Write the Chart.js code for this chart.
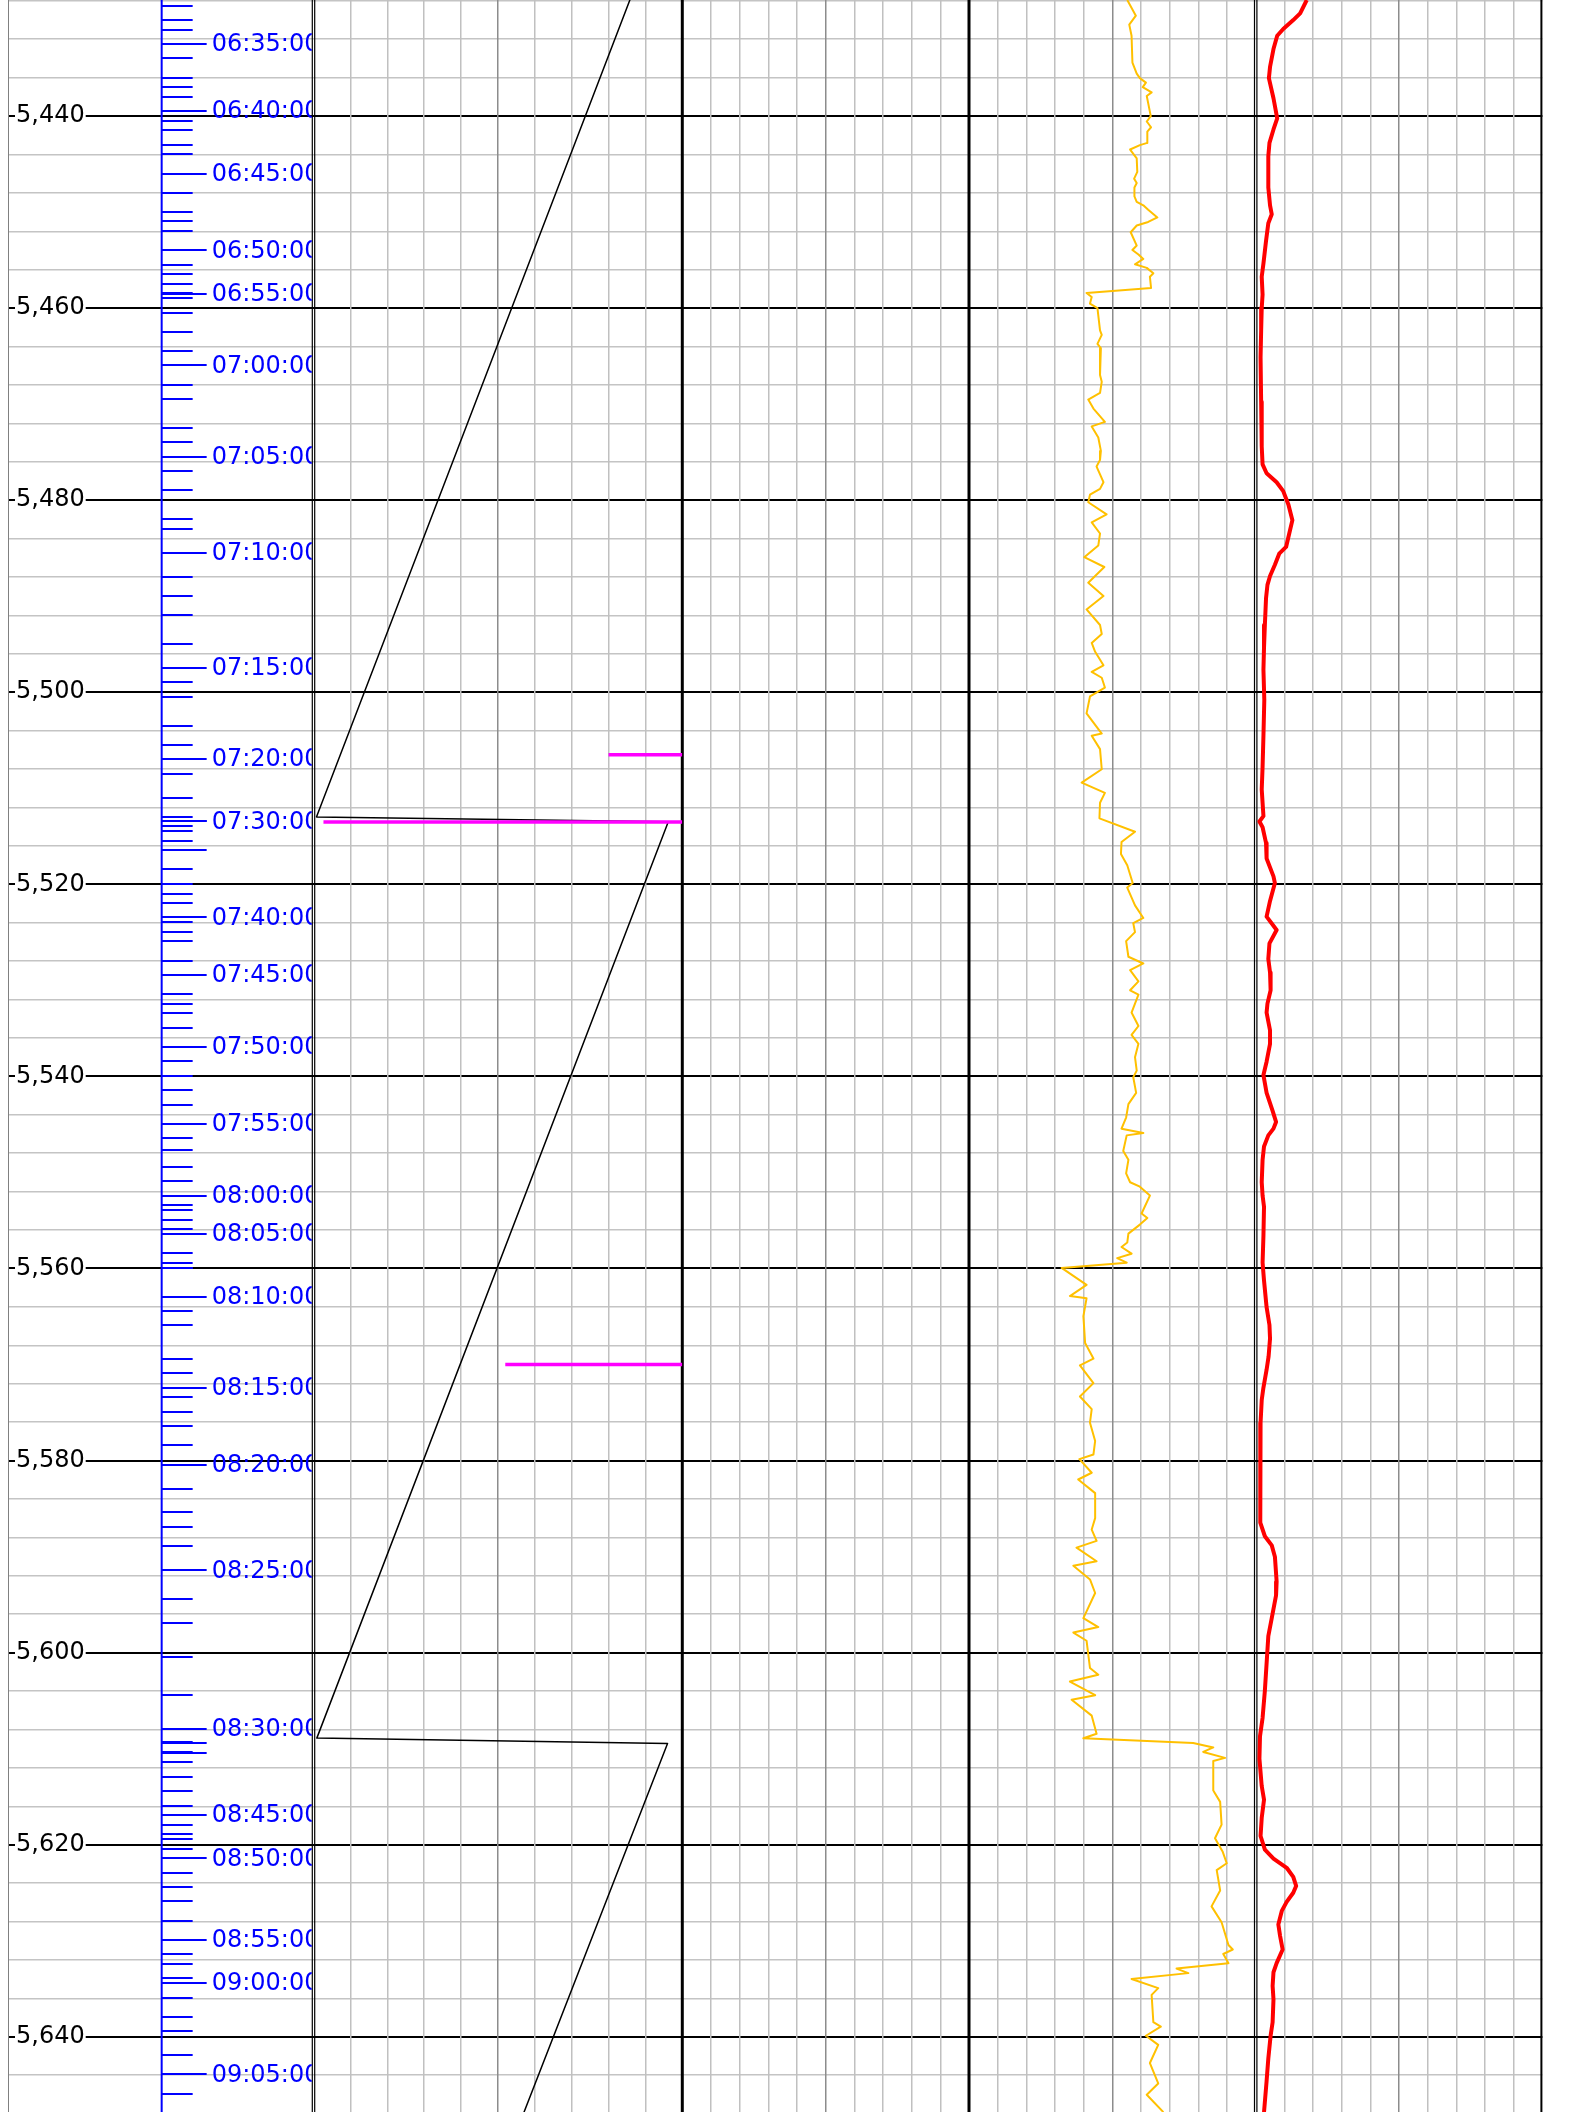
<!DOCTYPE html>
<html>
<head>
<meta charset="utf-8">
<style>
  html, body { margin: 0; padding: 0; background: #fff; }
  canvas { display: block; }
</style>
<script src="https://cdn.jsdelivr.net/npm/chart.js@4.4.1/dist/chart.umd.min.js"></script>
</head>
<body>
<canvas id="log" width="1588" height="2112"></canvas>
<script>
// depth window of the log (top / bottom of the picture)
const depthTop = 5427.92;
const depthBottom = 5647.83;
// labelled depths on the left
const depthLabels = [5440, 5460, 5480, 5500, 5520, 5540, 5560, 5580, 5600, 5620, 5640];

// time track: one tick per minute, depth where it was reached
const tickTimes = [
  '06:32','06:33','06:34','06:35','06:36','06:37','06:38','06:39','06:40','06:41','06:42','06:43','06:44',
  '06:45','06:46','06:47','06:48','06:49','06:50','06:51','06:52','06:53','06:54','06:55','06:56','06:57',
  '06:58','06:59','07:00','07:01','07:02','07:03','07:04','07:05','07:06','07:07','07:08','07:09','07:10',
  '07:11','07:12','07:13','07:14','07:15','07:16','07:17','07:18','07:19','07:20','07:21','07:22','07:23',
  '07:24','07:25','07:26','07:27','07:28','07:29','07:30','07:31','07:32','07:33','07:34','07:35','07:36',
  '07:37','07:38','07:39','07:40','07:41','07:42','07:43','07:44','07:45','07:46','07:47','07:48','07:49',
  '07:50','07:51','07:52','07:53','07:54','07:55','07:56','07:57','07:58','07:59','08:00','08:01','08:02',
  '08:03','08:04','08:05','08:06','08:07','08:08','08:09','08:10','08:11','08:12','08:13','08:14','08:15',
  '08:16','08:17','08:18','08:19','08:20','08:21','08:22','08:23','08:24','08:25','08:26','08:27','08:28',
  '08:29','08:30','08:31','08:32','08:33','08:34','08:35','08:36','08:37','08:38','08:39','08:40','08:41',
  '08:42','08:43','08:44','08:45','08:46','08:47','08:48','08:49','08:50','08:51','08:52','08:53','08:54',
  '08:55','08:56','08:57','08:58','08:59','09:00','09:01','09:02','09:03','09:04','09:05','09:06'
];
const tickDepths = [
  5428.51,5430.00,5431.01,5432.47,5433.99,5436.01,5437.01,5437.99,5439.48,5440.49,5441.49,5443.02,5443.99,
  5446.01,5447.99,5450.00,5450.97,5451.97,5453.98,5455.52,5456.48,5457.49,5458.45,5458.50,5458.95,5460.48,
  5462.49,5464.47,5465.96,5467.98,5469.47,5472.46,5473.95,5475.48,5476.97,5478.98,5481.99,5482.97,5485.47,
  5487.97,5489.98,5491.96,5494.98,5497.48,5498.97,5500.47,5503.49,5505.47,5506.95,5508.49,5510.98,5512.96,
  5513.40,5513.42,5513.43,5513.44,5513.44,5513.44,5513.44,5513.96,5514.45,5515.46,5516.42,5516.46,5518.44,
  5519.94,5520.98,5521.95,5523.44,5523.96,5524.94,5525.94,5527.96,5529.45,5531.46,5532.46,5533.43,5534.93,
  5536.94,5538.43,5539.93,5541.45,5542.95,5544.96,5546.45,5547.67,5549.41,5550.93,5552.43,5553.43,5553.92,
  5554.93,5555.93,5556.42,5558.43,5559.44,5559.93,5559.95,5562.95,5564.43,5565.92,5569.43,5570.92,5572.42,
  5573.42,5574.92,5576.41,5578.42,5580.44,5582.94,5585.40,5586.93,5588.93,5591.43,5594.42,5596.92,5600.43,
  5604.42,5607.96,5609.30,5609.36,5609.40,5609.42,5609.44,5610.38,5610.40,5610.41,5610.42,5610.42,5611.42,
  5612.92,5614.41,5615.94,5616.91,5617.92,5618.92,5619.41,5620.42,5621.42,5622.92,5624.41,5625.90,5627.92,
  5629.93,5631.42,5632.43,5633.92,5634.38,5634.41,5635.94,5637.92,5639.41,5641.91,5643.92,5645.94
];
// ticks that carry a written label
const timeLabels = [
  '06:35','06:40','06:45','06:50','06:55','07:00','07:05','07:10','07:15','07:20','07:30','07:40','07:45',
  '07:50','07:55','08:00','08:05','08:10','08:15','08:20','08:25','08:30','08:45','08:50','08:55','09:00','09:05'
];

// track 1: black sawtooth and magenta markers
const blackDepths = [5426.0, 5512.98, 5513.49, 5608.90, 5609.47, 5650.0];
const blackValues = [87.7, 0.8, 96.2, 0.9, 96.0, 54.9];
const magentaDepths = [5506.5, 5513.5, 5570.0];
const magentaValues = [80.0, 2.7, 52.0];

// track 3: yellow curve
const yellowDepths = [
  5427.92,5429.55,5430.48,5431.64,5434.43,5435.59,5436.06,5436.52,5436.99,5437.54,5437.92,5440.01,5440.57,
  5441.17,5441.63,5442.80,5443.03,5443.49,5444.42,5445.82,5446.52,5446.98,5447.45,5448.37,5448.93,5449.30,
  5449.77,5450.56,5451.03,5451.40,5452.10,5453.49,5453.95,5454.42,5454.88,5455.44,5455.81,5456.37,5456.74,
  5457.91,5458.42,5458.84,5459.53,5460.00,5462.32,5462.79,5463.72,5464.18,5466.97,5467.67,5468.83,5469.53,
  5470.46,5471.85,5472.32,5473.48,5474.87,5475.80,5476.50,5478.13,5478.82,5479.43,5480.22,5481.47,5482.31,
  5483.47,5484.73,5485.94,5486.96,5488.59,5489.98,5491.38,5493.00,5493.93,5494.86,5495.79,5497.19,5497.89,
  5498.49,5499.51,5500.44,5502.20,5504.30,5504.53,5505.92,5508.02,5509.41,5510.48,5511.50,5513.13,5514.52,
  5515.59,5516.85,5518.01,5519.87,5520.34,5522.19,5523.50,5524.05,5524.98,5525.91,5527.54,5528.24,5528.94,
  5530.10,5531.03,5531.49,5533.35,5534.75,5535.68,5536.61,5538.00,5539.40,5540.09,5541.72,5542.88,5544.28,
  5545.44,5545.90,5546.14,5547.76,5548.69,5550.09,5551.02,5551.48,5552.41,5554.27,5554.74,5555.43,5556.37,
  5557.30,5557.76,5558.46,5558.92,5559.39,5559.94,5561.71,5562.87,5563.11,5564.96,5567.76,5569.38,5570.08,
  5571.94,5573.33,5574.65,5576.06,5577.96,5579.37,5579.85,5581.27,5581.97,5583.39,5585.99,5587.18,5588.36,
  5589.07,5590.48,5590.96,5592.38,5593.79,5596.40,5597.34,5597.91,5598.76,5601.60,5602.30,5603.01,5604.43,
  5604.91,5606.56,5608.45,5608.92,5609.40,5609.87,5610.34,5610.96,5611.29,5614.36,5615.54,5617.91,5619.33,
  5620.74,5621.93,5622.64,5624.76,5626.42,5628.07,5630.44,5630.91,5631.38,5632.33,5632.90,5633.37,5633.98,
  5634.93,5635.64,5638.48,5638.95,5639.89,5640.84,5642.73,5644.86,5646.04,5647.84
];
const yellowValues = [
  55.2,58.2,55.9,56.7,57.0,58.5,59.6,61.7,60.6,63.7,62.0,63.4,62.0,
  63.5,62.2,62.2,59.6,56.2,58.5,58.7,57.6,58.5,57.7,57.7,58.5,60.8,
  62.5,65.7,62.5,58.5,56.4,58.5,57.0,59.1,60.8,57.9,62.0,64.3,63.1,
  63.5,41.0,42.8,42.2,44.8,45.7,46.3,44.8,46.0,45.7,46.3,45.7,41.6,
  43.4,47.4,42.8,45.1,46.0,45.7,44.5,46.9,45.7,42.2,41.6,48.0,42.8,
  45.7,45.1,40.2,47.2,41.6,46.9,41.0,45.7,46.3,42.8,44.0,46.9,42.8,
  46.3,47.4,42.2,41.0,46.3,42.8,45.7,46.3,39.3,47.4,45.7,45.5,57.9,
  53.2,53.0,55.2,57.1,55.2,57.9,60.8,57.3,57.9,54.8,55.6,60.8,56.2,
  59.1,56.2,59.1,56.7,59.1,56.7,59.1,57.9,58.5,57.3,58.3,55.6,54.8,
  53.2,60.8,55.0,53.8,55.6,54.8,56.2,59.6,63.1,60.2,62.2,59.6,55.6,
  55.2,53.2,56.7,51.7,55.0,32.3,41.0,35.2,41.0,39.9,40.5,43.4,38.7,
  43.4,38.7,42.8,42.2,44.0,43.4,38.5,42.8,38.1,44.0,44.0,42.8,44.5,
  37.5,44.5,36.4,42.2,44.0,39.9,45.1,36.4,41.0,42.2,45.1,35.2,44.0,
  35.8,42.8,44.5,39.9,78.2,85.2,81.7,89.3,85.2,85.2,87.6,88.1,85.8,
  88.5,89.9,86.4,87.6,84.6,88.1,90.5,92.0,88.7,90.5,72.4,76.5,56.7,
  66.0,63.7,64.3,66.9,61.7,66.0,63.1,66.0,62.0,67.8
];

// track 4: red curve
const redDepths = [
  5427.92,5429.31,5430.01,5430.94,5431.64,5433.03,5434.89,5436.06,5438.15,5440.24,5441.40,5442.80,5444.19,
  5447.45,5449.30,5450.23,5451.16,5453.02,5455.35,5456.74,5458.60,5460.00,5462.32,5465.11,5469.76,5474.41,
  5476.27,5477.20,5478.13,5479.06,5480.45,5482.08,5483.47,5484.87,5485.57,5486.73,5487.89,5488.82,5490.22,
  5493.00,5495.33,5497.65,5500.81,5504.53,5507.78,5510.11,5512.90,5513.46,5514.06,5515.69,5517.31,5519.17,
  5519.87,5521.73,5523.36,5524.75,5526.15,5527.77,5529.17,5531.03,5532.42,5533.35,5535.21,5536.61,5538.47,
  5539.86,5541.72,5543.58,5544.74,5545.44,5546.14,5547.30,5548.69,5551.02,5552.41,5553.58,5556.60,5559.39,
  5561.25,5564.03,5565.89,5567.29,5569.15,5570.54,5572.40,5573.70,5576.06,5580.79,5586.47,5587.88,5588.83,
  5590.01,5592.61,5594.03,5596.40,5598.29,5601.12,5603.96,5606.80,5608.69,5611.05,5613.89,5615.31,5617.20,
  5619.09,5620.51,5621.45,5622.40,5623.35,5624.29,5625.00,5625.95,5626.89,5628.31,5629.49,5630.91,5632.33,
  5633.28,5634.69,5636.11,5638.48,5639.89,5642.26,5644.62,5647.84
];
const redValues = [
  17.8,15.5,13.1,9.6,7.5,6.2,5.0,4.6,6.2,7.5,6.2,4.8,4.4,
  4.4,5.0,5.6,4.4,3.6,2.7,2.1,2.4,2.1,1.9,1.7,1.9,2.1,
  2.4,3.8,7.3,9.6,11.4,12.8,11.7,10.6,8.2,6.7,5.0,4.1,3.6,
  3.2,2.9,2.7,3.0,2.7,2.4,2.1,2.7,1.3,2.4,3.6,3.8,6.2,
  6.7,5.0,3.8,7.3,4.8,4.4,5.0,5.2,4.1,3.8,5.0,5.0,3.8,
  2.7,3.8,5.9,7.1,6.2,4.4,2.9,2.4,2.1,2.4,2.9,2.7,2.4,
  2.9,3.8,4.8,5.0,4.5,3.8,2.7,2.1,1.7,1.5,1.7,3.2,5.6,
  6.7,7.3,7.1,5.6,4.4,3.8,3.2,2.4,1.5,1.3,2.1,2.9,2.1,
  1.7,3.2,6.2,10.8,13.1,14.1,13.1,10.8,9.1,7.9,8.5,9.4,7.3,
  6.2,5.9,6.2,5.9,5.2,4.4,3.8,2.9
];

const pairs = (depths, values) => depths.map((d, i) => ({ x: values[i], y: d }));

const curve = (data, axis, color, width) => ({
  data, xAxisID: axis, yAxisID: 'y', showLine: true, pointRadius: 0,
  borderColor: color, borderWidth: width, tension: 0, borderJoinStyle: 'round'
});

const datasets = [
  ...magentaDepths.map((d, i) => curve([{ x: magentaValues[i], y: d }, { x: 100, y: d }], 'xT1', '#ff00ff', 3.5)),
  curve(pairs(blackDepths, blackValues), 'xT1', '#000000', 1.5),
  curve(pairs(yellowDepths, yellowValues), 'xT3', '#ffc000', 2),
  curve(pairs(redDepths, redValues), 'xT4', '#ff0000', 4)
];

const noSize = s => { s.width = 0; s.paddingTop = 0; s.paddingBottom = 0; s.paddingLeft = 0; s.paddingRight = 0; };

const trackGrid = ctx => {
  if (ctx.index === 0 || ctx.index === 10) return 'rgba(0,0,0,0)';
  return ctx.index === 5 ? '#8c8c8c' : '#c0c0c0';
};

const track = weight => ({
  type: 'linear', axis: 'x', position: 'bottom', stack: 'tracks', stackWeight: weight,
  min: 0, max: 100,
  ticks: { display: false, stepSize: 10 },
  grid: { drawTicks: false, color: trackGrid, lineWidth: 1.5 },
  border: { display: false }
});

const trackBorders = {
  id: 'trackBorders',
  beforeDatasetsDraw(chart) {
    const { ctx, chartArea: { top, bottom }, scales: s } = chart;
    const vline = (x, w, c) => {
      ctx.strokeStyle = c; ctx.lineWidth = w;
      ctx.beginPath(); ctx.moveTo(x, top); ctx.lineTo(x, bottom); ctx.stroke();
    };
    ctx.save();
    vline(s.xDepth.left + 0.5, 1, '#808080');
    vline(s.xT1.left - 1.2, 1.2, '#000');
    vline(s.xT1.left + 1.2, 1.2, '#000');
    vline(s.xT2.left, 3, '#000');
    vline(s.xT3.left, 3, '#000');
    vline(s.xT4.left - 1.2, 1.2, '#000');
    vline(s.xT4.left + 1.2, 1.2, '#000');
    vline(s.xT4.right - 1, 2, '#000');
    ctx.restore();
  }
};

const timeTrack = {
  id: 'timeTrack',
  afterDatasetsDraw(chart) {
    const { ctx, chartArea: { top, bottom }, scales: s } = chart;
    const axisX = s.xDepth.getPixelForValue(50.3);
    ctx.save();
    ctx.beginPath();
    ctx.rect(s.xDepth.left, top, s.xT1.left - 1.8 - s.xDepth.left, bottom - top);
    ctx.clip();
    ctx.strokeStyle = '#0000ff';
    ctx.lineWidth = 2;
    ctx.beginPath(); ctx.moveTo(axisX, top); ctx.lineTo(axisX, bottom); ctx.stroke();
    tickTimes.forEach((t, i) => {
      const py = Math.round(s.y.getPixelForValue(tickDepths[i]));
      const isLong = t.endsWith('0') || t.endsWith('5');
      ctx.beginPath();
      ctx.moveTo(axisX, py);
      ctx.lineTo(axisX + (isLong ? 45 : 31), py);
      ctx.stroke();
    });
    ctx.fillStyle = '#0000ff';
    ctx.font = '24px "DejaVu Sans"';
    ctx.textBaseline = 'middle';
    ctx.textAlign = 'left';
    timeLabels.forEach(t => {
      const i = tickTimes.indexOf(t);
      ctx.fillText(t + ':00', axisX + 50, s.y.getPixelForValue(tickDepths[i]) + 1);
    });
    ctx.restore();
  }
};

new Chart(document.getElementById('log'), {
  type: 'scatter',
  data: { datasets },
  options: {
    responsive: false,
    animation: false,
    devicePixelRatio: 1,
    events: [],
    layout: { padding: { left: 8, right: 45.6, top: 0, bottom: 0 } },
    plugins: { legend: { display: false }, tooltip: { enabled: false } },
    scales: {
      y: {
        type: 'linear', axis: 'y', position: 'left', reverse: true,
        min: depthTop, max: depthBottom,
        ticks: { display: false, stepSize: 4, includeBounds: false },
        grid: {
          drawTicks: false,
          color: c => (c.tick.value % 20 === 0 ? '#000000' : '#c4c4c4'),
          lineWidth: c => (c.tick.value % 20 === 0 ? 2 : 1.5)
        },
        border: { display: false },
        afterFit: noSize
      },
      yLabel: {
        type: 'linear', axis: 'y', position: 'left', reverse: true,
        min: depthTop, max: depthBottom,
        grid: { display: false },
        border: { display: false },
        afterBuildTicks: s => { s.ticks = depthLabels.map(v => ({ value: v })); },
        ticks: {
          mirror: true, padding: 8, z: 1,
          color: '#000', font: { family: 'DejaVu Sans', size: 24 },
          showLabelBackdrop: true, backdropColor: '#ffffff', backdropPadding: { x: 1, y: 0 },
          callback: v => Number(v).toLocaleString('en-US')
        },
        afterFit: noSize
      },
      xDepth: {
        type: 'linear', axis: 'x', position: 'bottom', stack: 'tracks', stackWeight: 305.5,
        min: 0, max: 100,
        ticks: { display: false },
        grid: { display: false, drawTicks: false },
        border: { display: false }
      },
      xT1: track(368.8),
      xT2: track(286.7),
      xT3: track(286.7),
      xT4: track(286.7)
    }
  },
  plugins: [trackBorders, timeTrack]
});
</script>
</body>
</html>
